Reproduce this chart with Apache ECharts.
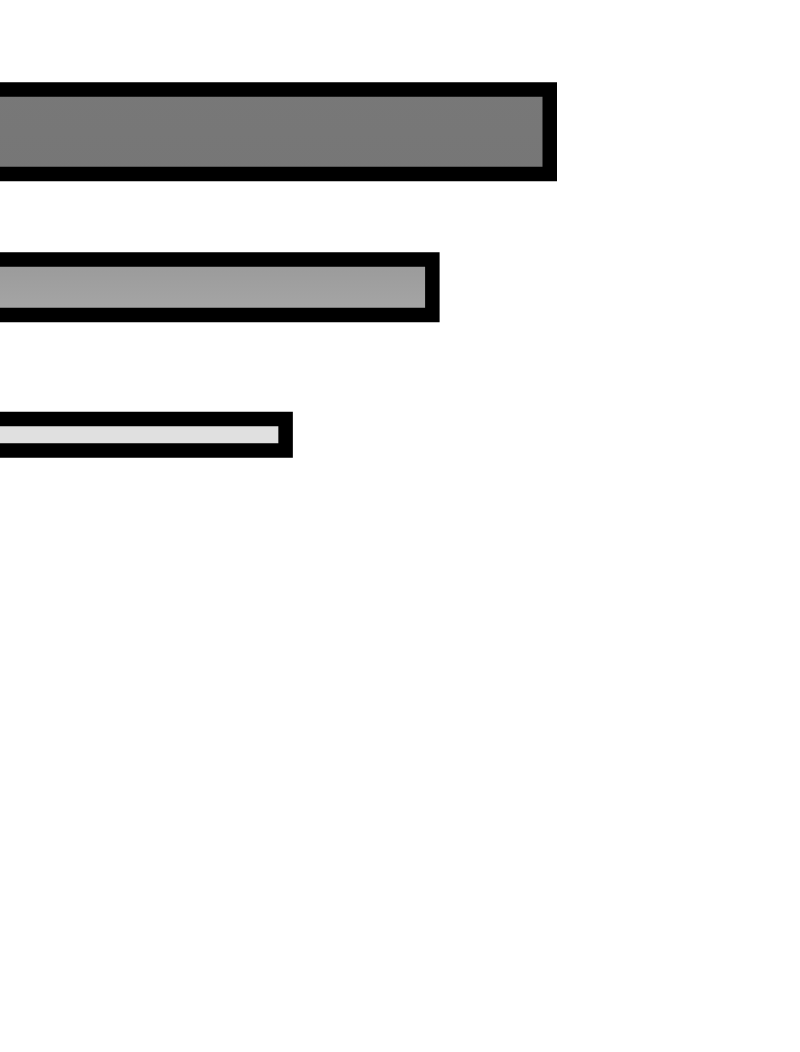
<!DOCTYPE html>
<html lang="en">
<head>
    <meta charset="UTF-8">
    <title>Bars</title>
    <style>
        html, body { margin: 0; padding: 0; background: #fff; }
    </style>
</head>
<body>
<div id="main" style="width: 800px;height:1052px;"></div>
<script src="https://cdn.jsdelivr.net/npm/echarts@6/dist/echarts.min.js"></script>
<script>
    var categories = ['A', 'B', 'C'];
    var values = [100, 80, 55];

    // layout / style, kept apart from the data
    var barCenters = [131.8, 287.3, 434.7];
    var barWidths = [99, 70, 46];
    var fills = [
        ['#787878', '#767676'],
        ['#989898', '#a8a8a8'],
        ['#e0e0e0', '#e0e0e0']
    ];

    var myChart = echarts.init(document.getElementById('main'));

    var grids = [], xAxes = [], yAxes = [], series = [];
    categories.forEach(function (c, i) {
        // one grid per bar, so each bar sits at its own height
        grids.push({left: -30, right: 243, top: barCenters[i] - 60, height: 120, outerBoundsMode: 'none'});
        xAxes.push({type: 'value', gridIndex: i, min: 0, max: 100, show: false});
        yAxes.push({type: 'category', gridIndex: i, data: [c], show: false});
        series.push({
            type: 'bar',
            xAxisIndex: i,
            yAxisIndex: i,
            barWidth: barWidths[i],
            silent: true,
            data: [values[i]],
            itemStyle: {
                borderColor: '#000',
                borderWidth: 14.5,
                color: {
                    type: 'linear', x: 0, y: 0, x2: 0, y2: 1,
                    colorStops: [
                        {offset: 0, color: fills[i][0]},
                        {offset: 1, color: fills[i][1]}
                    ]
                }
            }
        });
    });

    var option = {
        backgroundColor: '#fff',
        animation: false,
        grid: grids,
        xAxis: xAxes,
        yAxis: yAxes,
        series: series
    };

    myChart.setOption(option);
</script>
</body>
</html>
